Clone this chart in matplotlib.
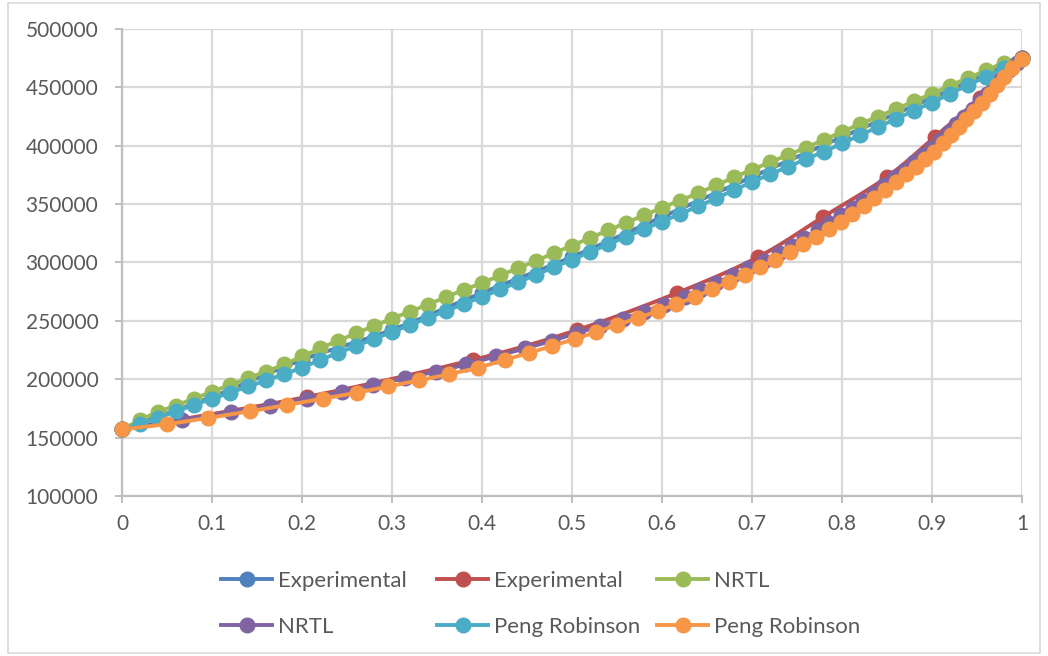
import numpy as np
import matplotlib
matplotlib.use("Agg")
import matplotlib.pyplot as plt
from matplotlib.patches import Rectangle

plt.rcParams['font.family'] = ['Lato', 'DejaVu Sans']

# experimental points: liquid (x) and vapour (y) compositions at the same pressure
EXP_X = [0.0, 0.1, 0.2, 0.3, 0.4, 0.5, 0.6, 0.7, 0.8, 0.9, 1.0]
EXP_Y = [0.0, 0.2056, 0.39, 0.506, 0.617, 0.707, 0.779, 0.85, 0.903, 0.953, 1.0]
EXP_P = [157000, 184900, 216600, 242300, 274000, 304800, 339000, 373300, 407500, 440900, 475000]

# model grid in liquid mole fraction
X_GRID = [0.0, 0.02, 0.04, 0.06, 0.08, 0.1, 0.12, 0.14, 0.16, 0.18,
          0.2, 0.22, 0.24, 0.26, 0.28, 0.3, 0.32, 0.34, 0.36, 0.38,
          0.4, 0.42, 0.44, 0.46, 0.48, 0.5, 0.52, 0.54, 0.56, 0.58,
          0.6, 0.62, 0.64, 0.66, 0.68, 0.7, 0.72, 0.74, 0.76, 0.78,
          0.8, 0.82, 0.84, 0.86, 0.88, 0.9, 0.92, 0.94, 0.96, 0.98, 1.0]

NRTL_P = [157000, 165000, 172000, 177500, 183500, 189300, 195000, 200800, 206500, 212700,
          219500, 226500, 233000, 239500, 245500, 252000, 258000, 264000, 270500, 276500,
          282500, 289000, 295000, 301500, 308000, 314500, 321000, 327500, 334000, 340500,
          347000, 353000, 359500, 366000, 373000, 379500, 386000, 392000, 398500, 405000,
          412000, 418500, 425000, 431500, 438000, 444500, 451500, 458000, 464500, 471000, 475000]
NRTL_Y = [0.0, 0.067, 0.121, 0.164, 0.206, 0.244, 0.279, 0.314, 0.349, 0.382,
          0.415, 0.448, 0.478, 0.505, 0.531, 0.557, 0.58, 0.602, 0.625, 0.642,
          0.66, 0.679, 0.695, 0.713, 0.73, 0.744, 0.758, 0.773, 0.786, 0.799,
          0.812, 0.823, 0.835, 0.847, 0.859, 0.87, 0.88, 0.89, 0.9, 0.909,
          0.919, 0.927, 0.936, 0.945, 0.953, 0.961, 0.969, 0.977, 0.986, 0.994, 1.0]

PR_P = [157000, 161500, 167000, 172500, 178000, 183300, 188500, 193800, 199000, 204300,
        210000, 216500, 222500, 228500, 234500, 240500, 246500, 252500, 258500, 264500,
        270500, 277000, 283000, 289500, 296000, 302500, 309000, 315500, 322000, 328500,
        335000, 341500, 348000, 355000, 362000, 369000, 375500, 382000, 388500, 395000,
        402000, 409000, 416000, 423000, 430000, 437000, 444500, 452000, 459000, 466500, 474500]
PR_Y = [0.0, 0.05, 0.096, 0.142, 0.183, 0.223, 0.261, 0.296, 0.33, 0.363,
        0.396, 0.425, 0.452, 0.478, 0.503, 0.527, 0.55, 0.573, 0.596, 0.616,
        0.637, 0.655, 0.674, 0.692, 0.709, 0.726, 0.742, 0.757, 0.771, 0.786,
        0.799, 0.811, 0.824, 0.836, 0.848, 0.86, 0.871, 0.882, 0.892, 0.902,
        0.912, 0.921, 0.93, 0.938, 0.947, 0.956, 0.964, 0.972, 0.98, 0.989, 1.0]

BLUE, RED, GREEN = '#4F81BD', '#C0504D', '#9BBB59'
PURPLE, AQUA, ORANGE = '#8064A2', '#4BACC6', '#F79646'
GRID = '#D9D9D9'
AXIS = '#BFBFBF'
TEXT = '#595959'


def smooth(xs, ys, n=10):
    # catmull-rom through the points, like a smoothed spreadsheet line
    p = np.column_stack([xs, ys]).astype(float)
    p = np.vstack([2 * p[0] - p[1], p, 2 * p[-1] - p[-2]])
    t = np.linspace(0, 1, n, endpoint=False)[:, None]
    out = []
    for i in range(1, len(p) - 2):
        p0, p1, p2, p3 = p[i - 1], p[i], p[i + 1], p[i + 2]
        out.append(0.5 * (2 * p1 + (p2 - p0) * t
                          + (2 * p0 - 5 * p1 + 4 * p2 - p3) * t ** 2
                          + (3 * p1 - p0 - 3 * p2 + p3) * t ** 3))
    out.append(p[-2][None])
    c = np.vstack(out)
    return c[:, 0], c[:, 1]


fig = plt.figure(figsize=(10.48, 6.56), dpi=100)
fig.patches.append(Rectangle((0.008, 0.004), 0.984, 0.992, transform=fig.transFigure,
                             fill=False, edgecolor=GRID, linewidth=1.2))
ax = fig.add_axes([122 / 1048, 1 - 496 / 656, 900 / 1048, 467 / 656])

series = [
    (EXP_X, EXP_P, BLUE, 'Experimental'),
    (EXP_Y, EXP_P, RED, 'Experimental'),
    (X_GRID, NRTL_P, GREEN, 'NRTL'),
    (NRTL_Y, NRTL_P, PURPLE, 'NRTL'),
    (X_GRID, PR_P, AQUA, 'Peng Robinson'),
    (PR_Y, PR_P, ORANGE, 'Peng Robinson'),
]

LW, MS = 2.8, 10.5
handles = []
for i, (xs, ps, col, name) in enumerate(series):
    sx, sy = smooth(xs, ps)
    ax.plot(sx, sy, color=col, lw=LW, solid_capstyle='round', zorder=3 + i, clip_on=False)
    ax.plot(xs, ps, 'o', color=col, ms=MS, mec=col, zorder=3 + i, clip_on=False)
    h, = ax.plot([], [], '-o', color=col, lw=LW, ms=MS, label=name)
    handles.append(h)

ax.set_xlim(0, 1)
ax.set_ylim(100000, 500000)
ax.set_xticks(np.arange(0, 1.01, 0.1))
ax.set_xticklabels(['0', '0.1', '0.2', '0.3', '0.4', '0.5', '0.6', '0.7', '0.8', '0.9', '1'])
ax.set_yticks(np.arange(100000, 500001, 50000))
ax.set_yticklabels([str(v) for v in range(100000, 500001, 50000)])
ax.grid(True, color=GRID, lw=1.6)
ax.set_axisbelow(True)
for s in ['top', 'right']:
    ax.spines[s].set_visible(False)
for s in ['left', 'bottom']:
    ax.spines[s].set_color(AXIS)
    ax.spines[s].set_linewidth(1.6)
ax.tick_params(axis='both', colors=AXIS, labelcolor=TEXT, labelsize=15, length=5, width=1.4)
ax.tick_params(axis='y', pad=12)
ax.tick_params(axis='x', pad=8)

# legend laid out as three fixed-width columns, two entries each
legend_cols = [(210, [0, 3]), (426, [1, 4]), (646, [2, 5])]
for left, idx in legend_cols:
    leg = fig.legend([handles[k] for k in idx], [handles[k].get_label() for k in idx],
                     loc='upper left', bbox_to_anchor=(left / 1048, 1 - 560 / 656),
                     frameon=False, fontsize=16, labelcolor=TEXT, borderpad=0,
                     handlelength=2.3, handletextpad=0.25, labelspacing=1.15)

fig.savefig('out.png', dpi=100)
